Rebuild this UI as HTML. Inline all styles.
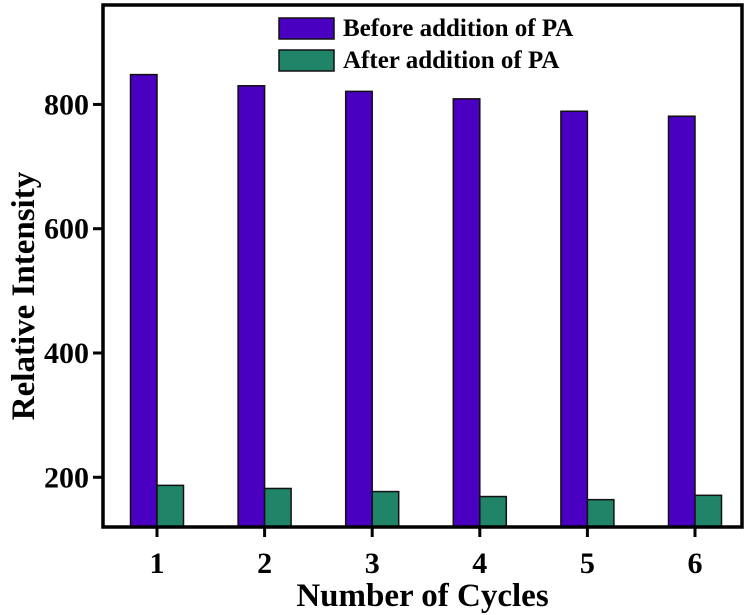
<!DOCTYPE html>
<html><head><meta charset="utf-8"><style>
body{margin:0;background:#fff}
svg{display:block;font-family:"Liberation Serif",serif;font-weight:bold}
</style></head><body>
<svg id="chart" width="753" height="615">
</svg>
<script>
const categories=[1,2,3,4,5,6];
const beforeValues=[848,830,821,809,789,781];
const afterValues=[187,182,177,169,164,171];
const yTicks=[200,400,600,800];
const seriesNames=["Before addition of PA","After addition of PA"];
const L=103,R=742,T=5,B=527,ymin=120,ymax=960;
const y=v=>B-(v-ymin)/(ymax-ymin)*(B-T);
const x=c=>157+(c-1)*107.6;
const NS="http://www.w3.org/2000/svg",svg=document.getElementById('chart');
function mk(t,a,p){const e=document.createElementNS(NS,t);for(const k in a)e.setAttribute(k,a[k]);(p||svg).appendChild(e);return e;}
const bw=26.5;
categories.forEach((c,i)=>{
 const b=mk('rect',{x:x(c)-bw,y:y(beforeValues[i]),width:bw,height:B-y(beforeValues[i]),fill:'#4a00c0',stroke:'#111','stroke-width':1.5});
 
 
 const a=mk('rect',{x:x(c),y:y(afterValues[i]),width:bw,height:B-y(afterValues[i]),fill:'#1f8468',stroke:'#111','stroke-width':1.5});
 
 
 const tk=mk('line',{x1:x(c),x2:x(c),y1:B,y2:B+10,stroke:'#000','stroke-width':3});
 
 
 const tl=mk('text',{x:x(c),y:B+46,'font-size':30,'text-anchor':'middle'});tl.textContent=c;
 
 
});
yTicks.forEach(v=>{
 const tk=mk('line',{x1:L-10,x2:L,y1:y(v),y2:y(v),stroke:'#000','stroke-width':3});
 
 
 const tl=mk('text',{x:L-14,y:y(v)+10,'font-size':30,'text-anchor':'end'});tl.textContent=v;
 
 
});
const fr=mk('rect',{x:L,y:T,width:R-L,height:B-T,fill:'none',stroke:'#000','stroke-width':3.5});


const cols=['#4a00c0','#1f8468'];
seriesNames.forEach((n,i)=>{
 const sw=mk('rect',{x:279,y:18+i*32,width:55,height:21,fill:cols[i],stroke:'#111','stroke-width':1.5});
 
 
 const t=mk('text',{x:343,y:36+i*32,'font-size':25});t.textContent=n;
 
 
});
const xt=mk('text',{x:(L+R)/2,y:606,'font-size':33,'text-anchor':'middle'});xt.textContent='Number of Cycles';


const yt=mk('text',{x:0,y:0,'font-size':33,'text-anchor':'middle',transform:'translate(34,'+((T+B)/2+30)+') rotate(-90)'});yt.textContent='Relative Intensity';


</script>
</body></html>
